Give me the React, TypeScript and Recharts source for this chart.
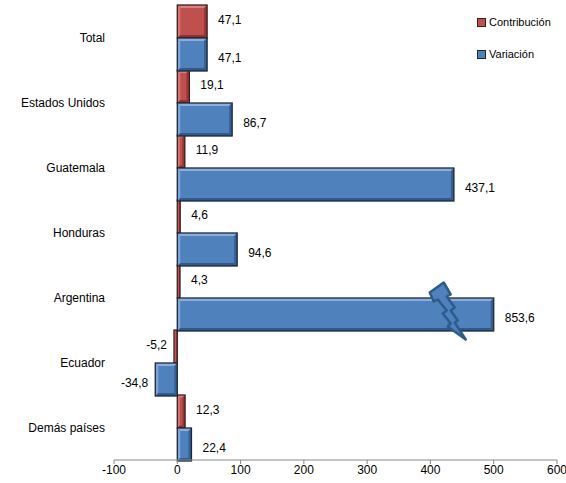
import { BarChart, Bar, XAxis, YAxis, LabelList } from "recharts";

const categories = ["Total", "Estados Unidos", "Guatemala", "Honduras", "Argentina", "Ecuador", "Demás países"];
const contribucion = [47.1, 19.1, 11.9, 4.6, 4.3, -5.2, 12.3];
const variacion = [47.1, 86.7, 437.1, 94.6, 853.6, -34.8, 22.4];
const xTicks = [-100, 0, 100, 200, 300, 400, 500, 600];
const AXIS_BREAK = 500; // bars longer than this are cut and marked with a bolt

const FONT = "'Liberation Sans', Arial, sans-serif";

const data = categories.map((name, i) => ({
    name,
    contribucion: contribucion[i],
    variacion: Math.min(variacion[i], AXIS_BREAK),
    contribucionReal: contribucion[i],
    variacionReal: variacion[i],
}));

const fmt = (v: number) => v.toFixed(1).replace(".", ",");

const palettes = {
    red: { main: "#C0504D", light: "#D9807E", dark: "#8E3230", stroke: "#3B1F1F" },
    blue: { main: "#4F81BD", light: "#8AAEDD", dark: "#2F5A8E", stroke: "#1E2835" },
};

function BevelBar(props: any, colors: typeof palettes.blue, broken?: (p: any) => boolean) {
    const { x, y, width, height, payload } = props;
    const x0 = Math.min(x, x + width);
    const w = Math.abs(width);
    const y0 = Math.min(y, y + height);
    const h = Math.abs(height);
    if (w <= 0 || h <= 0) return <g />;
    const b = Math.min(3, w / 3, h / 3);
    const x1 = x0 + w;
    const y1 = y0 + h;
    const bolt = broken && broken(payload);
    const bx = x1;
    const by = y0 + h / 2;
    const boltPts: [number, number][] = [
        [-64, -22], [-50, -32], [-43, -20], [-47, -18], [-39, -7], [-43, -4],
        [-36, 6], [-39, 8], [-28, 25], [-46, 12], [-43, 9], [-51, -1],
        [-47, -4], [-56, -15], [-60, -13],
    ];
    return (
        <g>
            <rect x={x0} y={y0} width={w} height={h} fill={colors.main} />
            <polygon points={`${x0},${y0} ${x1},${y0} ${x1 - b},${y0 + b} ${x0 + b},${y0 + b}`} fill={colors.light} />
            <polygon points={`${x0},${y0} ${x0 + b},${y0 + b} ${x0 + b},${y1 - b} ${x0},${y1}`} fill={colors.light} opacity={0.8} />
            <polygon points={`${x0},${y1} ${x0 + b},${y1 - b} ${x1 - b},${y1 - b} ${x1},${y1}`} fill={colors.dark} />
            <polygon points={`${x1},${y0} ${x1},${y1} ${x1 - b},${y1 - b} ${x1 - b},${y0 + b}`} fill={colors.dark} opacity={0.85} />
            <rect x={x0} y={y0} width={w} height={h} fill="none" stroke={colors.stroke} strokeWidth={1.3} />
            {bolt && (
                <polygon
                    points={boltPts.map(([px, py]) => `${bx + px},${by + py}`).join(" ")}
                    fill={colors.main}
                    stroke="#2E5C8A"
                    strokeWidth={2.5}
                    strokeLinejoin="round"
                />
            )}
        </g>
    );
}

function ValueLabel(props: any, dy: number) {
    const { x, y, width, height, value } = props;
    const neg = value < 0;
    const end = x + width;
    const cy = y + height / 2 + dy;
    return (
        <text
            x={neg ? Math.min(x, end) - 7 : Math.max(x, end) + 11}
            y={cy}
            textAnchor={neg ? "end" : "start"}
            dominantBaseline="central"
            fontFamily={FONT}
            fontSize={12}
            fill="#000"
        >
            {fmt(value)}
        </text>
    );
}

function LegendBox() {
    const items = [
        { label: "Contribución", c: palettes.red, top: 16 },
        { label: "Variación", c: palettes.blue, top: 48 },
    ];
    return (
        <div style={{ position: "absolute", left: 477, top: 0 }}>
            {items.map((it) => (
                <div
                    key={it.label}
                    style={{
                        position: "absolute",
                        top: it.top,
                        left: 0,
                        display: "flex",
                        alignItems: "center",
                        whiteSpace: "nowrap",
                        fontFamily: FONT,
                        fontSize: 11,
                        color: "#000",
                    }}
                >
                    <span
                        style={{
                            display: "inline-block",
                            width: 7,
                            height: 7,
                            background: it.c.main,
                            border: `1px solid ${it.c.stroke}`,
                            marginRight: 3,
                        }}
                    />
                    {it.label}
                </div>
            ))}
        </div>
    );
}

export default function App() {
    return (
        <div style={{ position: "absolute", left: 0, top: 0, width: 566, height: 483, background: "#fff" }}>
            <BarChart
                width={566}
                height={483}
                data={data}
                layout="vertical"
                margin={{ top: 5, right: 9, bottom: 3, left: 0 }}
                barCategoryGap={0}
                barGap={0}
            >
                <XAxis
                    type="number"
                    domain={[-100, 600]}
                    ticks={xTicks}
                    height={20}
                    tickSize={4}
                    tickMargin={1}
                    stroke="#888"
                    tick={{ fill: "#000", fontSize: 12, fontFamily: FONT }}
                    allowDataOverflow
                />
                <YAxis
                    type="category"
                    dataKey="name"
                    width={114}
                    axisLine={false}
                    tickLine={false}
                    tickSize={0}
                    tickMargin={9}
                    tick={{ fill: "#000", fontSize: 12, fontFamily: FONT }}
                />
                <Bar
                    dataKey="contribucion"
                    name="Contribución"
                    isAnimationActive={false}
                    shape={(p: any) => BevelBar(p, palettes.red)}
                >
                    <LabelList dataKey="contribucionReal" content={(p: any) => ValueLabel(p, -2)} />
                </Bar>
                <Bar
                    dataKey="variacion"
                    name="Variación"
                    isAnimationActive={false}
                    shape={(p: any) => BevelBar(p, palettes.blue, (d) => d.variacionReal > AXIS_BREAK)}
                >
                    <LabelList dataKey="variacionReal" content={(p: any) => ValueLabel(p, 3)} />
                </Bar>
            </BarChart>
            <LegendBox />
        </div>
    );
}
